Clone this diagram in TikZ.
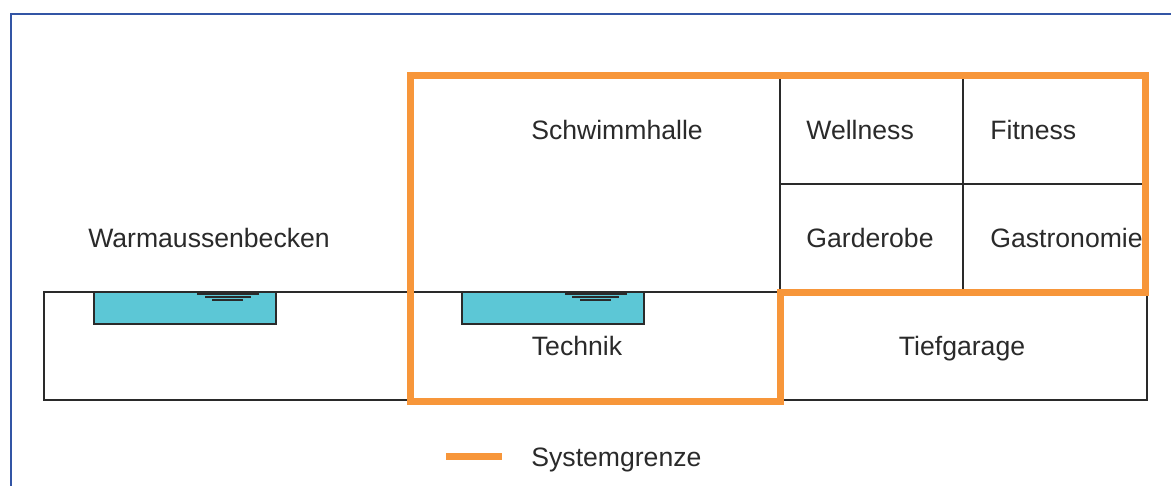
\documentclass[tikz,border=0pt]{standalone}
\usepackage{fontspec}
\setmainfont{Liberation Sans}
\definecolor{sysorange}{HTML}{F7963A}
\definecolor{framblue}{HTML}{3355A5}
\definecolor{poolblue}{HTML}{5CC7D6}
\definecolor{linegray}{HTML}{2A2A2A}
\tikzset{
  lbl/.style={font=\fontsize{13.3}{15}\selectfont, text=linegray, inner sep=0pt},
  thin/.style={draw=linegray, line width=0.6pt},
  sysline/.style={draw=sysorange, line width=3.5pt},
  pool/.style={fill=poolblue, draw=linegray, line width=0.7pt},
  wave/.style={draw=linegray, line width=0.6pt},
}
\begin{document}
\begin{tikzpicture}[x=0.5pt,y=-0.5pt]
\useasboundingbox (0,0) rectangle (1171,486);
\fill[white] (0,0) rectangle (1171,486);
\begin{scope}
\clip (0,0) rectangle (1171,486);
\draw[framblue, line width=1.2pt] (11,14) rectangle (1190,510);
\end{scope}
% ground box
\draw[thin] (44,292) rectangle (1147,400);
% pools
\draw[pool] (94,292) rectangle (276,324);
\draw[wave] (197,294) -- (259,294) (205,297) -- (251,297) (212,300) -- (243,300);
\draw[pool] (462,292) rectangle (644,324);
\draw[wave] (565,294) -- (627,294) (572,297) -- (619,297) (580,300) -- (611,300);
% room grid
\draw[thin] (780,76) -- (780,292);
\draw[thin] (963,76) -- (963,292);
\draw[thin] (780,184) -- (1145,184);
% system boundary
\draw[sysline, line join=miter] (410,76) -- (1145,76) -- (1145,292) -- (780,292) -- (780,401) -- (410,401) -- cycle;
% labels
\node[lbl] (schwimm) at (617,130) {Schwimmhalle};
\node[lbl, anchor=west] (well) at (806,130) {Wellness};
\node[lbl, anchor=west] (fit) at (990,130) {Fitness};
\node[lbl, anchor=west] (gard) at (806,238) {Garderobe};
\node[lbl, anchor=west] (gastro) at (990,238) {Gastronomie};
\node[lbl] (warm) at (209,238) {Warmaussenbecken};
\node[lbl] (tech) at (577,346) {Technik};
\node[lbl] (tief) at (962,349) {Tiefgarage};
% legend
\coordinate (lga) at (446,456);
\coordinate (lgb) at (502,456);
\draw[sysline] (lga) -- (lgb);
\node[lbl, anchor=west] (sys) at (531,460) {Systemgrenze};
\end{tikzpicture}
\end{document}
